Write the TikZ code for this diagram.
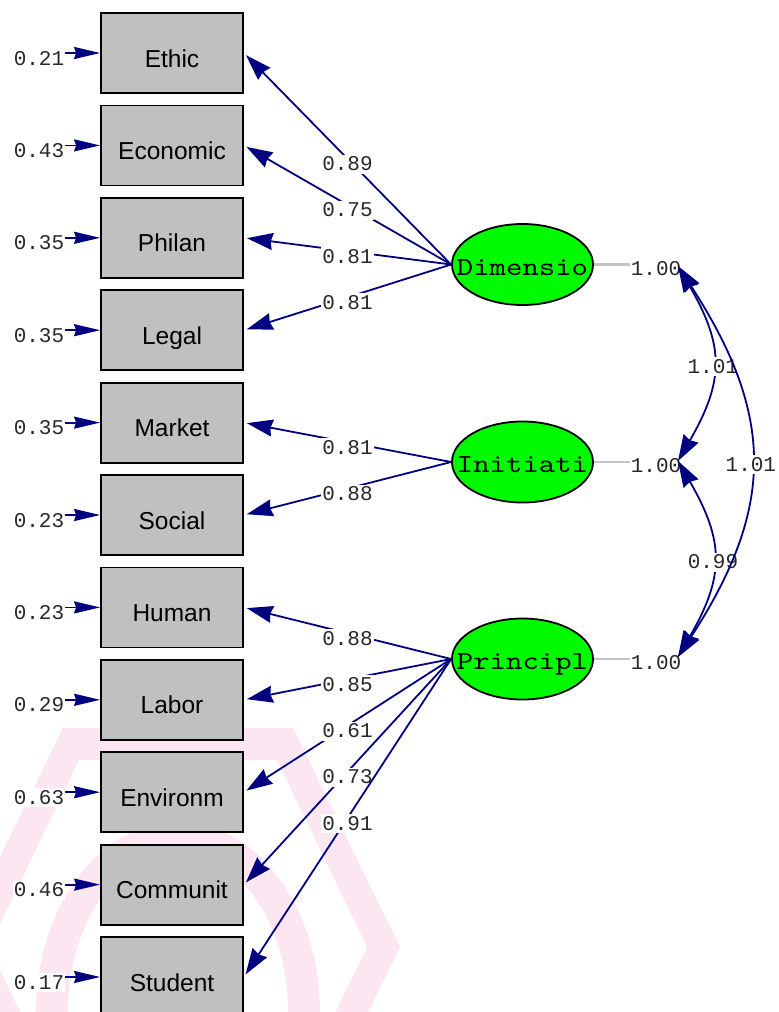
\documentclass[tikz,border=0pt]{standalone}
\usepackage{fontspec}
\setmainfont{Liberation Sans}
\newfontfamily\numfont{Liberation Mono}
\newfontfamily\latfont{lmmono10-regular}[Extension=.otf, FakeStretch=1.2]
\usetikzlibrary{arrows.meta,shapes.geometric,calc}
\definecolor{pathblue}{RGB}{0,0,128}
\definecolor{boxgray}{RGB}{192,192,192}
\definecolor{latgreen}{RGB}{0,250,0}
\definecolor{varline}{RGB}{196,196,196}
\definecolor{markpink}{RGB}{252,230,242}
\definecolor{valtext}{RGB}{40,40,40}
\tikzset{
  pathhead/.tip={Stealth[length=26pt,width=17pt,inset=2pt]},
  errhead/.tip={Stealth[length=26pt,width=12pt,inset=2pt]}
}
\begin{document}
\begin{tikzpicture}[x=1pt,y=-1pt,
  obs/.style={draw=black, line width=1.8pt, fill=boxgray, minimum width=142pt,
    minimum height=80pt, inner sep=0pt, font=\fontsize{24.5}{24.5}\selectfont,
    text height=28pt, text depth=0pt},
  lat/.style={ellipse, draw=black, line width=1.8pt, fill=latgreen,
    minimum width=141pt, minimum height=81pt, inner sep=0pt,
    font=\latfont\fontsize{26}{26}\selectfont, text height=21pt, text depth=0pt},
  val/.style={fill=white, inner xsep=1pt, inner ysep=3pt, text=valtext,
    font=\numfont\fontsize{21}{21}\selectfont, text height=13pt, text depth=0pt},
  err/.style={draw=pathblue, line width=1.8pt, -{errhead}},
  load/.style={draw=pathblue, line width=1.8pt, shorten >=3pt, -{pathhead}},
  cov/.style={draw=pathblue, line width=1.8pt, {pathhead}-{pathhead}},
  varpath/.style={draw=varline, line width=2.2pt}
]
\useasboundingbox (0,0) rectangle (779,1012);

% faint logo in the background
\fill[markpink, even odd rule]
  (400,947) -- (293,728) -- (63,728) -- (-44,947) -- (63,1166) -- (293,1166) -- cycle
  (367,947) -- (277,760) -- (79,760) -- (-11,947) -- (79,1134) -- (277,1134) -- cycle;
\fill[markpink, even odd rule]
  (178,1012) ellipse [x radius=142, y radius=190]
  (178,1012) ellipse [x radius=110, y radius=160];

% observed variables with their error variances
\foreach \nm/\txt/\ev [count=\i from 0] in {ethic/Ethic/0.21, econ/Economic/0.43,
    philan/Philan/0.35, legal/Legal/0.35, market/Market/0.35, social/Social/0.23,
    human/Human/0.23, labor/Labor/0.29, envir/Environm/0.63, commun/Communit/0.46,
    student/Student/0.17} {
  \node[obs] (\nm) at (172,{53+92.4*\i}) {\txt};
  \node[val] (\nm-e) at (39,{58.5+92.4*\i}) {\ev};
  \draw[err] (\nm-e.east |- \nm.west) -- (\nm.west);
}

% latent variables
\node[lat] (dim) at (522.5,264.5) {\makebox[0pt][c]{Dimensio}};
\node[lat] (ini) at (522.5,462) {\makebox[0pt][c]{Initiati}};
\node[lat] (pri) at (522.5,659) {\makebox[0pt][c]{Principl}};

% loadings
\foreach \src/\dst/\w in {dim/ethic/0.89, dim/econ/0.75, dim/philan/0.81, dim/legal/0.81,
    ini/market/0.81, ini/social/0.88, pri/human/0.88, pri/labor/0.85,
    pri/envir/0.61, pri/commun/0.73, pri/student/0.91} {
  \draw[load] (\src.west) -- node[val, pos=0.5, yshift=-5.5pt] (\dst-w) {\w} (\dst.east);
}

% latent variances
\node[val] (v1) at (656,268.5) {1.00};
\node[val] (v2) at (656,466) {1.00};
\node[val] (v3) at (656,663) {1.00};
\draw[varpath] (dim.east) -- (v1.west |- dim.east);
\draw[varpath] (ini.east) -- (v2.west |- ini.east);
\draw[varpath] (pri.east) -- (v3.west |- pri.east);

% covariances between latent variables
\coordinate (k1) at (678,266);
\coordinate (k2) at (678,461);
\coordinate (k3) at (678,657);
\draw[cov] (k1) to[out=-60, in=60, looseness=1.22]
  node[val, pos=0.5, yshift=-3pt] (c12) {1.01} (k2);
\draw[cov] (k2) to[out=-60, in=60, looseness=1.22]
  node[val, pos=0.5, yshift=-3pt] (c23) {0.99} (k3);
\draw[cov] (k1) to[out=-57, in=57, looseness=1.17]
  node[val, pos=0.5, yshift=-3pt] (c13) {1.01} (k3);
\end{tikzpicture}
\end{document}
